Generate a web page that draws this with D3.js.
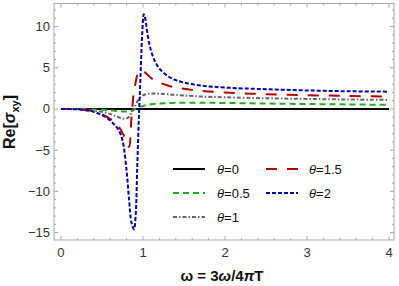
<!DOCTYPE html>
<html>
<head>
<meta charset="utf-8">
<script src="https://cdn.jsdelivr.net/npm/d3@7"></script>
<style>
  body { margin: 0; background: #fff; }
  svg { font-family: "Liberation Sans", Arial, sans-serif; }
</style>
</head>
<body>
<div id="chart"></div>
<script>
// omega grid shared by every curve
const omega = [0, 0.1, 0.2, 0.3, 0.4, 0.5, 0.6, 0.65, 0.7, 0.75, 0.8, 0.83, 0.86, 0.89, 0.91, 0.93, 0.95, 0.97, 0.99, 1.01, 1.03, 1.06, 1.1, 1.15, 1.2, 1.3, 1.4, 1.5, 1.7, 2.0, 2.5, 3.0, 3.5, 4.0];

const theta0 = omega.map(() => 0);
const theta05 = [0, 0, -0.01, -0.03, -0.06, -0.1, -0.17, -0.21, -0.26, -0.3, -0.32, -0.3, -0.22, -0.1, 0, 0.1, 0.2, 0.28, 0.35, 0.4, 0.45, 0.5, 0.56, 0.62, 0.66, 0.72, 0.75, 0.76, 0.76, 0.73, 0.66, 0.6, 0.55, 0.5];
const theta1 = [0, 0, -0.03, -0.08, -0.18, -0.35, -0.6, -0.8, -1.0, -1.15, -1.15, -0.95, -0.5, 0.1, 0.5, 0.9, 1.2, 1.45, 1.6, 1.7, 1.78, 1.84, 1.88, 1.88, 1.85, 1.78, 1.7, 1.63, 1.52, 1.42, 1.3, 1.22, 1.15, 1.1];
const theta15 = [0, -0.01, -0.05, -0.13, -0.3, -0.65, -1.2, -1.6, -2.1, -2.9, -4.0, -4.6, -1.0, 2.2, 3.2, 4.1, 4.5, 4.65, 4.7, 4.6, 4.4, 4.1, 3.75, 3.45, 3.2, 2.85, 2.6, 2.45, 2.2, 2.0, 1.8, 1.68, 1.58, 1.5];
const theta2 = [0, -0.01, -0.05, -0.15, -0.35, -0.75, -1.4, -1.9, -2.5, -3.8, -7.5, -11.0, -13.8, -14.6, -13.0, -7.0, -1.0, 4.0, 9.0, 11.5, 10.8, 8.8, 7.0, 5.7, 4.9, 4.0, 3.5, 3.2, 2.85, 2.6, 2.4, 2.25, 2.15, 2.1];

const seriesLabels = ["0", "0.5", "1", "1.5", "2"];
const xTicks = [0, 1, 2, 3, 4];
const yTicks = [-15, -10, -5, 0, 5, 10];

const series = [
  { label: seriesLabels[0], values: theta0, color: "#000000", dash: null },
  { label: seriesLabels[1], values: theta05, color: "#1fae1f", dash: "6,4" },
  { label: seriesLabels[2], values: theta1, color: "#666666", dash: "4,2,1.5,2" },
  { label: seriesLabels[3], values: theta15, color: "#b00000", dash: "11,10" },
  { label: seriesLabels[4], values: theta2, color: "#0000b0", dash: "4,2" }
];

const width = 399;
const height = 286;
const svg = d3.select("#chart").append("svg")
  .attr("width", width).attr("height", height);

const x = d3.scaleLinear().domain([-0.085, 4.06]).range([54, 394]);
const y = d3.scaleLinear().domain([-15.9, 12.8]).range([240, 3.5]);

const [x0, x1] = x.range();
const [y0, y1] = y.range();

svg.append("clipPath").attr("id", "clip")
  .append("rect")
  .attr("x", x0).attr("y", y1)
  .attr("width", x1 - x0).attr("height", y0 - y1);

// frame
svg.append("rect")
  .attr("x", x0).attr("y", y1)
  .attr("width", x1 - x0).attr("height", y0 - y1)
  .attr("fill", "none").attr("stroke", "#a8a8a8").attr("stroke-width", 1);

const ticksG = svg.append("g").attr("stroke", "#a8a8a8").attr("stroke-width", 1);
const xMinor = d3.range(0, 4.01, 0.2).filter(v => Math.abs(v - Math.round(v)) > 1e-6);
const yMinor = d3.range(-15, 12.01, 1).filter(v => v % 5 !== 0);

xTicks.forEach(v => {
  ticksG.append("line").attr("x1", x(v)).attr("x2", x(v)).attr("y1", y0).attr("y2", y0 - 4);
  ticksG.append("line").attr("x1", x(v)).attr("x2", x(v)).attr("y1", y1).attr("y2", y1 + 4);
});
xMinor.forEach(v => {
  ticksG.append("line").attr("x1", x(v)).attr("x2", x(v)).attr("y1", y0).attr("y2", y0 - 2);
  ticksG.append("line").attr("x1", x(v)).attr("x2", x(v)).attr("y1", y1).attr("y2", y1 + 2);
});
yTicks.forEach(v => {
  ticksG.append("line").attr("x1", x0).attr("x2", x0 + 4).attr("y1", y(v)).attr("y2", y(v));
  ticksG.append("line").attr("x1", x1).attr("x2", x1 - 4).attr("y1", y(v)).attr("y2", y(v));
});
yMinor.forEach(v => {
  ticksG.append("line").attr("x1", x0).attr("x2", x0 + 2).attr("y1", y(v)).attr("y2", y(v));
  ticksG.append("line").attr("x1", x1).attr("x2", x1 - 2).attr("y1", y(v)).attr("y2", y(v));
});

// tick labels
svg.append("g").selectAll("text").data(xTicks).enter().append("text")
  .attr("x", d => x(d)).attr("y", 257)
  .attr("text-anchor", "middle")
  .attr("font-size", 13).attr("fill", "#333")
  .text(d => d);

svg.append("g").selectAll("text").data(yTicks).enter().append("text")
  .attr("x", 50).attr("y", d => y(d) + 4.5)
  .attr("text-anchor", "end")
  .attr("font-size", 13).attr("fill", "#333")
  .text(d => d < 0 ? "\u2212" + Math.abs(d) : d);

// curves
const line = d3.line()
  .x((d, i) => x(omega[i]))
  .y(d => y(d))
  .curve(d3.curveCatmullRom.alpha(0.5));

const plot = svg.append("g").attr("clip-path", "url(#clip)");
plot.selectAll("path").data(series).enter().append("path")
  .attr("d", d => line(d.values))
  .attr("fill", "none")
  .attr("stroke", d => d.color)
  .attr("stroke-width", 2)
  .attr("stroke-dasharray", d => d.dash);

// legend
const legendPos = [
  { lx: 173, tx: 217, ty: 169 },
  { lx: 173, tx: 217, ty: 193 },
  { lx: 173, tx: 217, ty: 217 },
  { lx: 266, tx: 309, ty: 169 },
  { lx: 266, tx: 309, ty: 193 }
];
const legend = svg.append("g");
series.forEach((s, i) => {
  const p = legendPos[i];
  legend.append("line")
    .attr("x1", p.lx).attr("x2", p.lx + 32)
    .attr("y1", p.ty).attr("y2", p.ty)
    .attr("stroke", s.color).attr("stroke-width", 2)
    .attr("stroke-dasharray", s.dash);
  const t = legend.append("text")
    .attr("x", p.tx).attr("y", p.ty + 5)
    .attr("font-size", 13).attr("fill", "#111");
  t.append("tspan").attr("font-style", "italic").text("\u03b8");
  t.append("tspan").text("=" + s.label);
});

// axis titles
const xt = svg.append("text")
  .attr("x", 222).attr("y", 281)
  .attr("text-anchor", "middle")
  .attr("font-size", 15).attr("font-weight", "bold").attr("fill", "#111");
xt.append("tspan").text("\u03c9 = 3");
xt.append("tspan").attr("font-style", "italic").text("\u03c9");
xt.append("tspan").text("/4");
xt.append("tspan").attr("font-style", "italic").text("\u03c0");
xt.append("tspan").text("T");

const yt = svg.append("text")
  .attr("transform", "translate(15,122) rotate(-90)")
  .attr("text-anchor", "middle")
  .attr("font-size", 16).attr("font-weight", "bold").attr("fill", "#111");
yt.append("tspan").text("Re[");
yt.append("tspan").attr("font-style", "italic").text("\u03c3");
yt.append("tspan").attr("font-size", 11).attr("dy", 4).text("xy");
yt.append("tspan").attr("dy", -4).text("]");
</script>
</body>
</html>
